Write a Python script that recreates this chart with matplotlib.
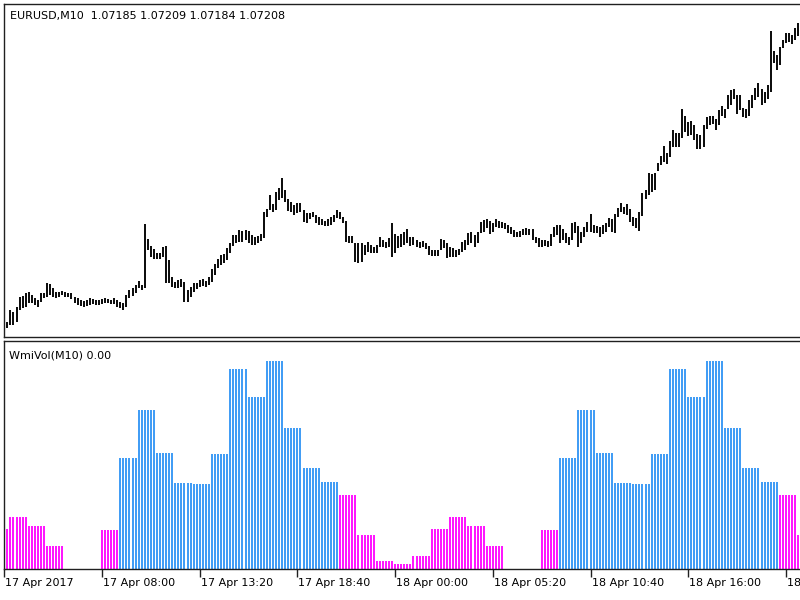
import numpy as np
import matplotlib
matplotlib.use("Agg")
import matplotlib.pyplot as plt

# ---------------- data ----------------
symbol = "EURUSD,M10"
last_open, last_high, last_low, last_close = 1.07185, 1.07209, 1.07184, 1.07208

# 10-minute bars starting 17 Apr 2017 02:40 (high / low)
high = [1.06611, 1.06611, 1.06635, 1.06631, 1.06641, 1.06661, 1.06663, 1.06669, 1.06671, 1.06665,
        1.06659, 1.06655, 1.06669, 1.06669, 1.06689, 1.06687, 1.06679, 1.06671, 1.06671, 1.06673,
        1.06671, 1.06669, 1.06669, 1.06661, 1.06659, 1.06655, 1.06653, 1.06655, 1.06659, 1.06657,
        1.06655, 1.06655, 1.06657, 1.06659, 1.06657, 1.06655, 1.06659, 1.06655, 1.06651, 1.06649,
        1.06665, 1.06675, 1.06679, 1.06685, 1.06693, 1.06685, 1.06807, 1.06777, 1.06763, 1.06757,
        1.06749, 1.06749, 1.06761, 1.06763, 1.06735, 1.06701, 1.06691, 1.06695, 1.06697, 1.06691,
        1.06675, 1.06681, 1.06689, 1.06689, 1.06695, 1.06697, 1.06693, 1.06701, 1.06717, 1.06727,
        1.06737, 1.06745, 1.06747, 1.06759, 1.06769, 1.06785, 1.06785, 1.06795, 1.06793, 1.06795,
        1.06793, 1.06785, 1.06781, 1.06783, 1.06787, 1.06831, 1.06837, 1.06865, 1.06847, 1.06871,
        1.06879, 1.06899, 1.06875, 1.06857, 1.06851, 1.06845, 1.06849, 1.06849, 1.06835, 1.06829,
        1.06829, 1.06831, 1.06825, 1.06821, 1.06817, 1.06813, 1.06817, 1.06821, 1.06825, 1.06835,
        1.06831, 1.06821, 1.06813, 1.06783, 1.06783, 1.06769, 1.06769, 1.06769, 1.06765, 1.06771,
        1.06765, 1.06761, 1.06765, 1.06781, 1.06775, 1.06771, 1.06779, 1.06809, 1.06787, 1.06783,
        1.06787, 1.06791, 1.06797, 1.06781, 1.06781, 1.06775, 1.06771, 1.06773, 1.06769, 1.06763,
        1.06755, 1.06755, 1.06755, 1.06777, 1.06775, 1.06769, 1.06761, 1.06759, 1.06755, 1.06757,
        1.06771, 1.06775, 1.06789, 1.06791, 1.06785, 1.06791, 1.06811, 1.06815, 1.06817, 1.06813,
        1.06809, 1.06817, 1.06813, 1.06811, 1.06809, 1.06805, 1.06801, 1.06795, 1.06791, 1.06793,
        1.06797, 1.06799, 1.06797, 1.06797, 1.06781, 1.06779, 1.06775, 1.06775, 1.06773, 1.06787,
        1.06801, 1.06805, 1.06805, 1.06797, 1.06789, 1.06781, 1.06809, 1.06811, 1.06803, 1.06791,
        1.06801, 1.06811, 1.06827, 1.06805, 1.06803, 1.06801, 1.06805, 1.06809, 1.06819, 1.06817,
        1.06827, 1.06839, 1.06849, 1.06841, 1.06847, 1.06837, 1.06821, 1.06819, 1.06831, 1.06869,
        1.06875, 1.06909, 1.06907, 1.06909, 1.06929, 1.06943, 1.06963, 1.06949, 1.06973, 1.06995,
        1.06989, 1.06989, 1.07037, 1.07023, 1.07011, 1.07013, 1.07005, 1.06987, 1.06985, 1.07005,
        1.07021, 1.07023, 1.07023, 1.07017, 1.07035, 1.07043, 1.07037, 1.07065, 1.07075, 1.07077,
        1.07065, 1.07065, 1.07039, 1.07037, 1.07055, 1.07065, 1.07079, 1.07089, 1.07077, 1.07071,
        1.07085, 1.07193, 1.07153, 1.07145, 1.07161, 1.07175, 1.07189, 1.07189, 1.07185, 1.07199,
        1.07209]
low = [1.06595, 1.06599, 1.06605, 1.06605, 1.06611, 1.06635, 1.06639, 1.06641, 1.06649, 1.06649,
       1.06645, 1.06641, 1.06651, 1.06659, 1.06661, 1.06665, 1.06661, 1.06659, 1.06661, 1.06665,
       1.06661, 1.06661, 1.06657, 1.06649, 1.06645, 1.06643, 1.06641, 1.06643, 1.06645, 1.06647,
       1.06645, 1.06645, 1.06647, 1.06649, 1.06649, 1.06647, 1.06647, 1.06641, 1.06639, 1.06635,
       1.06641, 1.06659, 1.06663, 1.06669, 1.06679, 1.06675, 1.06679, 1.06755, 1.06741, 1.06737,
       1.06737, 1.06737, 1.06741, 1.06689, 1.06689, 1.06681, 1.06679, 1.06679, 1.06681, 1.06651,
       1.06651, 1.06661, 1.06671, 1.06677, 1.06681, 1.06683, 1.06681, 1.06685, 1.06691, 1.06705,
       1.06719, 1.06725, 1.06729, 1.06735, 1.06749, 1.06763, 1.06769, 1.06771, 1.06771, 1.06775,
       1.06769, 1.06765, 1.06765, 1.06769, 1.06773, 1.06779, 1.06821, 1.06835, 1.06831, 1.06835,
       1.06855, 1.06859, 1.06851, 1.06833, 1.06831, 1.06825, 1.06829, 1.06831, 1.06811, 1.06809,
       1.06817, 1.06821, 1.06809, 1.06805, 1.06805, 1.06803, 1.06803, 1.06805, 1.06811, 1.06819,
       1.06817, 1.06809, 1.06771, 1.06769, 1.06769, 1.06731, 1.06729, 1.06731, 1.06745, 1.06751,
       1.06749, 1.06749, 1.06749, 1.06761, 1.06761, 1.06759, 1.06761, 1.06741, 1.06749, 1.06759,
       1.06761, 1.06765, 1.06769, 1.06763, 1.06765, 1.06761, 1.06759, 1.06761, 1.06757, 1.06745,
       1.06743, 1.06743, 1.06743, 1.06755, 1.06759, 1.06739, 1.06741, 1.06741, 1.06741, 1.06745,
       1.06751, 1.06755, 1.06765, 1.06769, 1.06761, 1.06769, 1.06789, 1.06791, 1.06799, 1.06787,
       1.06791, 1.06801, 1.06799, 1.06799, 1.06797, 1.06789, 1.06787, 1.06781, 1.06781, 1.06781,
       1.06785, 1.06785, 1.06785, 1.06775, 1.06769, 1.06761, 1.06761, 1.06763, 1.06761, 1.06763,
       1.06781, 1.06785, 1.06769, 1.06775, 1.06769, 1.06765, 1.06775, 1.06789, 1.06761, 1.06769,
       1.06781, 1.06791, 1.06791, 1.06789, 1.06789, 1.06781, 1.06787, 1.06791, 1.06801, 1.06791,
       1.06789, 1.06821, 1.06831, 1.06827, 1.06825, 1.06811, 1.06803, 1.06799, 1.06793, 1.06823,
       1.06857, 1.06865, 1.06871, 1.06875, 1.06913, 1.06925, 1.06931, 1.06927, 1.06941, 1.06961,
       1.06961, 1.06961, 1.06979, 1.06991, 1.06983, 1.06985, 1.06975, 1.06957, 1.06957, 1.06961,
       1.06997, 1.07005, 1.07007, 1.06995, 1.07005, 1.07023, 1.07019, 1.07037, 1.07045, 1.07057,
       1.07027, 1.07035, 1.07021, 1.07019, 1.07023, 1.07039, 1.07055, 1.07061, 1.07045, 1.07049,
       1.07057, 1.07071, 1.07129, 1.07115, 1.07125, 1.07159, 1.07169, 1.07171, 1.07167, 1.07175,
       1.07184]

start_hour, start_minute, bar_minutes = 2, 40, 10

# WmiVol: average volume for each hour of the day (0..23)
hourly_vol = [4, 12, 39, 51, 42, 22, 0, 0, 38, 110, 158, 115,
              85, 84, 114, 199, 171, 207, 140, 100, 86, 73, 33, 7]

tick_every = 32
tick_labels = ["17 Apr 2017", "17 Apr 08:00", "17 Apr 13:20", "17 Apr 18:40",
               "18 Apr 00:00", "18 Apr 05:20", "18 Apr 10:40", "18 Apr 16:00",
               "18 Apr 21:20"]

# ---------------- figure ----------------
n = len(high)
x = np.arange(n)
minutes = start_hour * 60 + start_minute + bar_minutes * x
bar_hour = (minutes // 60) % 24
vol = np.array(hourly_vol, dtype=float)[bar_hour]
avg = np.mean(hourly_vol)
BLUE = "#2E93F5"
MAGENTA = "#FF00FF"
colors = [BLUE if v > avg else MAGENTA for v in vol]

W, H = 800, 600
fig = plt.figure(figsize=(8, 6), dpi=100)
fig.patch.set_facecolor("white")

def fx(px):
    return px / W

def fy(py):
    return 1 - py / H

left_px, right_px = 4, 800
ax1 = fig.add_axes([fx(left_px), fy(337), fx(right_px - left_px), fy(3.5) - fy(337)])
ax2 = fig.add_axes([fx(left_px), fy(568.5), fx(right_px - left_px), fy(341) - fy(568.5)])

xlim = (-0.1, n - 0.4)

# price bars
ax1.vlines(x, low, high, colors="black", linewidth=1.35)
ax1.set_xlim(*xlim)
ax1.set_ylim(1.06581, 1.07248)
ax1.set_xticks([])
ax1.set_yticks([])
for s in ["left", "top", "bottom"]:
    ax1.spines[s].set_color("#202020")
    ax1.spines[s].set_linewidth(1.0)
ax1.spines["right"].set_visible(False)
ax1.text(fx(10), fy(15.5), f"{symbol}  {last_open:.5f} {last_high:.5f} {last_low:.5f} {last_close:.5f}",
         transform=fig.transFigure, fontsize=8, va="center", ha="left", color="black",
         family="DejaVu Sans")

# histogram
ax2.vlines(x, 0, vol, colors=colors, linewidth=1.3)
ax2.set_xlim(*xlim)
ax2.set_ylim(0, 227)
ax2.set_yticks([])
for s in ["left", "top", "bottom"]:
    ax2.spines[s].set_color("#202020")
    ax2.spines[s].set_linewidth(1.0)
ax2.spines["right"].set_visible(False)
tick_pos = x[::tick_every]
ax2.set_xticks(tick_pos)
ax2.set_xticklabels([])
ax2.tick_params(axis="x", direction="out", length=5.5, width=1.0, color="#202020")
for p, lab in zip(tick_pos, tick_labels):
    ax2.annotate(lab, xy=(p, 0), xycoords=("data", "axes fraction"),
                 xytext=(1.0, -14.5), textcoords="offset pixels",
                 fontsize=8, ha="left", va="center", color="black",
                 annotation_clip=False)
ax2.text(fx(9), fy(355), "WmiVol(M10) 0.00", transform=fig.transFigure,
         fontsize=8, va="center", ha="left", color="black")

fig.savefig("out.png", dpi=100, facecolor="white")
